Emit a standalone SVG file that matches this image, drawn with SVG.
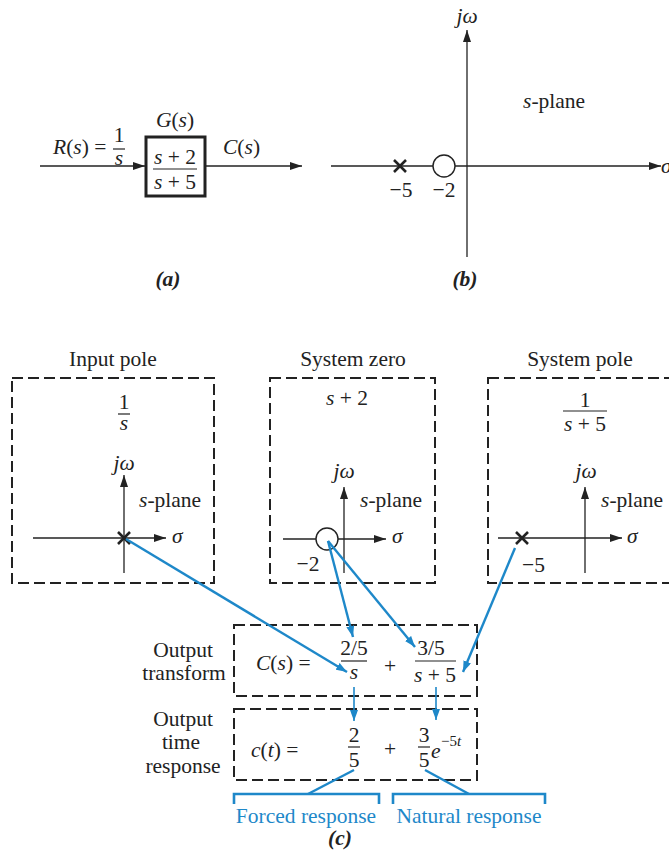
<svg xmlns="http://www.w3.org/2000/svg" width="669" height="860" viewBox="0 0 669 860">
<defs>
<style>
text{font-family:"Liberation Serif","Times New Roman",serif;font-size:21.5px;fill:#222}
.i{font-style:italic}
.m{text-anchor:middle}
.b{font-weight:bold}
.blue{fill:#1e88c9}
.ax{stroke:#222;stroke-width:1.3;fill:none}
.dash{stroke:#222;stroke-width:2;fill:none;stroke-dasharray:11 5}
.fl{stroke:#222;stroke-width:1.2}
.x{stroke:#222;stroke-width:2.6;fill:none}
.bl{stroke:#1e88c9;stroke-width:2.4;fill:none}
.bl2{stroke:#1e88c9;stroke-width:1.6;fill:none}
.br{stroke:#1e88c9;stroke-width:2.6;fill:none}
</style>
<marker id="ka" viewBox="0 0 12 8" refX="12" refY="4" markerWidth="12" markerHeight="8" markerUnits="userSpaceOnUse" orient="auto"><path d="M0 0L12 4L0 8z" fill="#222"/></marker>
<marker id="ba" viewBox="0 0 11 8" refX="11" refY="4" markerWidth="11" markerHeight="8" markerUnits="userSpaceOnUse" orient="auto"><path d="M0 0L11 4L0 8z" fill="#1e88c9"/></marker>
</defs>

<!-- (a) block diagram -->
<g id="a-input">
<line class="ax" x1="40" y1="166" x2="145" y2="166" marker-end="url(#ka)"/>
<text x="53" y="154"><tspan class="i">R</tspan>(<tspan class="i">s</tspan>) =</text>
<text class="m" x="119" y="142">1</text>
<line class="fl" x1="113" y1="149" x2="125" y2="149"/>
<text class="m i" x="119" y="165">s</text>
</g>
<g id="a-block">
<rect x="146" y="137" width="59" height="59" fill="none" stroke="#222" stroke-width="3"/>
<text class="m" x="175" y="127"><tspan class="i">G</tspan>(<tspan class="i">s</tspan>)</text>
<text class="m" x="175" y="164"><tspan class="i">s</tspan> + 2</text>
<line class="fl" x1="153" y1="169" x2="197" y2="169"/>
<text class="m" x="175" y="189"><tspan class="i">s</tspan> + 5</text>
</g>
<g id="a-output">
<line class="ax" x1="205" y1="166" x2="302" y2="166" marker-end="url(#ka)"/>
<text x="223" y="154"><tspan class="i">C</tspan>(<tspan class="i">s</tspan>)</text>
</g>
<text class="m b i" x="168" y="286">(a)</text>

<!-- (b) s-plane -->
<g id="b-plane">
<line class="ax" x1="467" y1="257" x2="467" y2="30" marker-end="url(#ka)"/>
<line class="ax" x1="331" y1="166" x2="661" y2="166" marker-end="url(#ka)"/>
<text class="m i" x="467" y="23">jω</text>
<text x="523" y="108"><tspan class="i">s</tspan>-plane</text>
<text class="i" x="661" y="173">σ</text>
<path class="x" d="M394 160L406 172M406 160L394 172"/>
<circle cx="444" cy="166" r="11" fill="#fff" stroke="#222" stroke-width="1.4"/>
<text class="m" x="401" y="197">−5</text>
<text class="m" x="444" y="197">−2</text>
</g>
<text class="m b i" x="465" y="286">(b)</text>

<!-- (c) -->
<g id="c-input-pole">
<rect class="dash" x="12" y="378" width="202" height="205"/>
<text class="m" x="113" y="366">Input pole</text>
<text class="m" x="124" y="409">1</text>
<line class="fl" x1="118" y1="414" x2="130" y2="414"/>
<text class="m i" x="124" y="430">s</text>
<line class="ax" x1="124" y1="573" x2="124" y2="475" marker-end="url(#ka)"/>
<line class="ax" x1="33" y1="538" x2="166" y2="538" marker-end="url(#ka)"/>
<text class="m i" x="124" y="470">jω</text>
<text x="139" y="507"><tspan class="i">s</tspan>-plane</text>
<text class="i" x="172" y="543">σ</text>
<path class="x" d="M118 532L130 544M130 532L118 544"/>
</g>

<g id="c-system-zero">
<rect class="dash" x="270" y="378" width="165" height="205"/>
<text class="m" x="353" y="366">System zero</text>
<text class="m" x="347" y="405"><tspan class="i">s</tspan> + 2</text>
<line class="ax" x1="344" y1="573" x2="344" y2="487" marker-end="url(#ka)"/>
<line class="ax" x1="283" y1="539" x2="386" y2="539" marker-end="url(#ka)"/>
<text class="m i" x="344" y="478">jω</text>
<text x="360" y="507"><tspan class="i">s</tspan>-plane</text>
<text class="i" x="392" y="543">σ</text>
<circle cx="327" cy="539" r="11" fill="#fff" stroke="#222" stroke-width="1.4"/>
<text class="m" x="308" y="571">−2</text>
</g>

<g id="c-system-pole">
<rect class="dash" x="488" y="378" width="190" height="205"/>
<text class="m" x="580" y="366">System pole</text>
<text class="m" x="585" y="407">1</text>
<line class="fl" x1="563" y1="411" x2="607" y2="411"/>
<text class="m" x="585" y="431"><tspan class="i">s</tspan> + 5</text>
<line class="ax" x1="585" y1="573" x2="585" y2="487" marker-end="url(#ka)"/>
<line class="ax" x1="498" y1="538" x2="622" y2="538" marker-end="url(#ka)"/>
<text class="m i" x="586" y="478">jω</text>
<text x="601" y="507"><tspan class="i">s</tspan>-plane</text>
<text class="i" x="627" y="543">σ</text>
<path class="x" d="M516 532L528 544M528 532L516 544"/>
<text x="522" y="572">−5</text>
</g>

<g id="c-output-transform">
<rect class="dash" x="234" y="625" width="243" height="71"/>
<text class="m" x="183" y="657">Output</text>
<text class="m" x="184" y="680">transform</text>
<text x="256" y="670"><tspan class="i">C</tspan>(<tspan class="i">s</tspan>) =</text>
<text class="m" x="354" y="655">2/5</text>
<line class="fl" x1="341" y1="661" x2="367" y2="661"/>
<text class="m i" x="354" y="679">s</text>
<text class="m" x="390" y="673">+</text>
<text class="m" x="431" y="655">3/5</text>
<line class="fl" x1="415" y1="661" x2="456" y2="661"/>
<text class="m" x="435" y="682"><tspan class="i">s</tspan> + 5</text>
</g>

<g id="c-output-time">
<rect class="dash" x="234" y="709" width="243" height="71"/>
<text class="m" x="183" y="726">Output</text>
<text class="m" x="181" y="749">time</text>
<text class="m" x="183" y="773">response</text>
<text x="251" y="757"><tspan class="i">c</tspan>(<tspan class="i">t</tspan>) =</text>
<text class="m" x="354" y="742">2</text>
<line class="fl" x1="348" y1="747" x2="360" y2="747"/>
<text class="m" x="354" y="767">5</text>
<text class="m" x="390" y="756">+</text>
<text class="m" x="424" y="742">3</text>
<line class="fl" x1="418" y1="747" x2="430" y2="747"/>
<text class="m" x="424" y="767">5</text>
<text class="i" x="431" y="758">e</text>
<text x="441" y="746" style="font-size:15px"><tspan>−5</tspan><tspan class="i">t</tspan></text>
</g>

<g id="c-labels">
<text class="m blue" x="306" y="823">Forced response</text>
<text class="m blue" x="469" y="823">Natural response</text>
<text class="m b i" x="340" y="845">(c)</text>
</g>

<g id="connectors">
<line class="bl" x1="126" y1="539" x2="347" y2="672" marker-end="url(#ba)"/>
<line class="bl" x1="328" y1="541" x2="353" y2="637" marker-end="url(#ba)"/>
<line class="bl" x1="328" y1="541" x2="415" y2="647" marker-end="url(#ba)"/>
<line class="bl" x1="515" y1="548" x2="463" y2="672" marker-end="url(#ba)"/>
<line class="bl2" x1="354" y1="687" x2="354" y2="721" marker-end="url(#ba)"/>
<line class="bl2" x1="436" y1="687" x2="436" y2="720" marker-end="url(#ba)"/>
<line class="bl" x1="354" y1="770" x2="308" y2="794"/>
<line class="bl" x1="425" y1="770" x2="469" y2="794"/>
<path class="br" d="M234 804V794H379V804"/>
<path class="br" d="M393 804V794H545V804"/>
</g>
</svg>
